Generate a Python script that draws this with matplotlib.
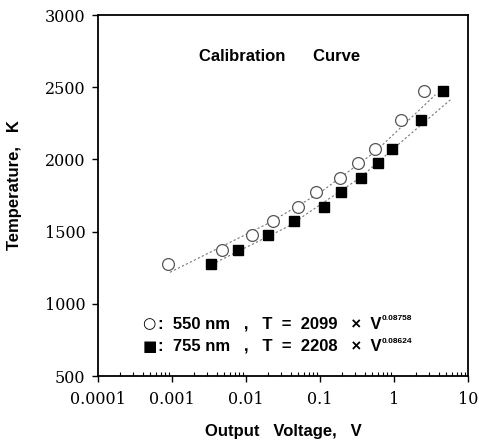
import numpy as np
import matplotlib.pyplot as plt
from matplotlib.ticker import LogLocator, FixedLocator, FixedFormatter, NullFormatter

# measured points (temperature steps of 100 K)
temps = [1273, 1373, 1473, 1573, 1673, 1773, 1873, 1973, 2073, 2273, 2473]
volt_550 = [0.00089, 0.0048, 0.0122, 0.0229, 0.050, 0.088, 0.184, 0.324, 0.562, 1.23, 2.55]
volt_755 = [0.0034, 0.0078, 0.020, 0.0446, 0.112, 0.192, 0.360, 0.612, 0.948, 2.30, 4.53]

# dotted fit curves
fit_550_v = [0.00094, 0.0212, 0.101, 0.560, 3.63]
fit_550_t = [1218, 1564, 1771, 2054, 2448]
fit_755_v = [0.00308, 0.0372, 0.351, 0.951, 5.79]
fit_755_t = [1260, 1536, 1874, 2068, 2413]

x_ticks = [0.0001, 0.001, 0.01, 0.1, 1, 10]
x_labels = ['0.0001', '0.001', '0.01', '0.1', '1', '10']
y_ticks = [500, 1000, 1500, 2000, 2500, 3000]

sans = 'Liberation Sans'

fig = plt.figure(figsize=(4.79, 4.40), dpi=100)
ax = fig.add_axes([98 / 479, 64 / 440, 370 / 479, 361 / 440])

ax.plot(fit_550_v, fit_550_t, color='#777777', lw=0.8, ls=(0, (2, 2)))
ax.plot(fit_755_v, fit_755_t, color='#777777', lw=0.8, ls=(0, (2, 2)))
ax.plot(volt_550, temps, 'o', ms=8.5, mfc='white', mec='#555555', mew=0.9)
ax.plot(volt_755, temps, 's', ms=7.5, color='black')

ax.set_xscale('log')
ax.set_xlim(0.0001, 10)
ax.set_ylim(500, 3000)

ax.xaxis.set_major_locator(FixedLocator(x_ticks))
ax.xaxis.set_major_formatter(FixedFormatter(x_labels))
ax.xaxis.set_minor_locator(LogLocator(base=10, subs=np.arange(2, 10)))
ax.xaxis.set_minor_formatter(NullFormatter())
ax.set_yticks(y_ticks)

for lab in ax.get_xticklabels() + ax.get_yticklabels():
    lab.set_fontfamily('DejaVu Serif')
    lab.set_fontsize(11.5)

ax.tick_params(axis='x', which='major', direction='out', length=4, width=1, pad=7)
ax.tick_params(axis='x', which='minor', direction='in', length=3, width=0.8)
ax.tick_params(axis='y', which='major', direction='out', length=4, width=1, pad=5)
for s in ax.spines.values():
    s.set_linewidth(1.3)

ax.set_xlabel('Output   Voltage,   V', fontsize=12, fontweight='bold',
              family=sans, labelpad=11)
ax.set_ylabel('Temperature,   K', fontsize=12, fontweight='bold', family=sans)
ax.yaxis.set_label_coords(-0.205, 0.529)

ax.text(0.492, 0.886, 'Calibration      Curve', transform=ax.transAxes,
        ha='center', va='center', fontsize=12, fontweight='bold', family=sans)

# formula "legend"
rows = [(0.145, '\u25cb', ':  550 nm   ,   T  =  2099   \u00d7  V', '0.08758'),
        (0.082, '\u25a0', ':  755 nm   ,   T  =  2208   \u00d7  V', '0.08624')]
for y, glyph, body, power in rows:
    ax.text(0.120, y, glyph, transform=ax.transAxes, ha='left', va='center',
            fontsize=11, family='DejaVu Sans')
    t = ax.text(0.162, y, body, transform=ax.transAxes, ha='left', va='center',
                fontsize=12, fontweight='bold', family=sans)
    ax.annotate(power, xy=(1, 1), xycoords=t, xytext=(0, 1),
                textcoords='offset points', ha='left', va='top',
                fontsize=6, fontweight='bold', family=sans)

fig.savefig('out.png', dpi=100)
